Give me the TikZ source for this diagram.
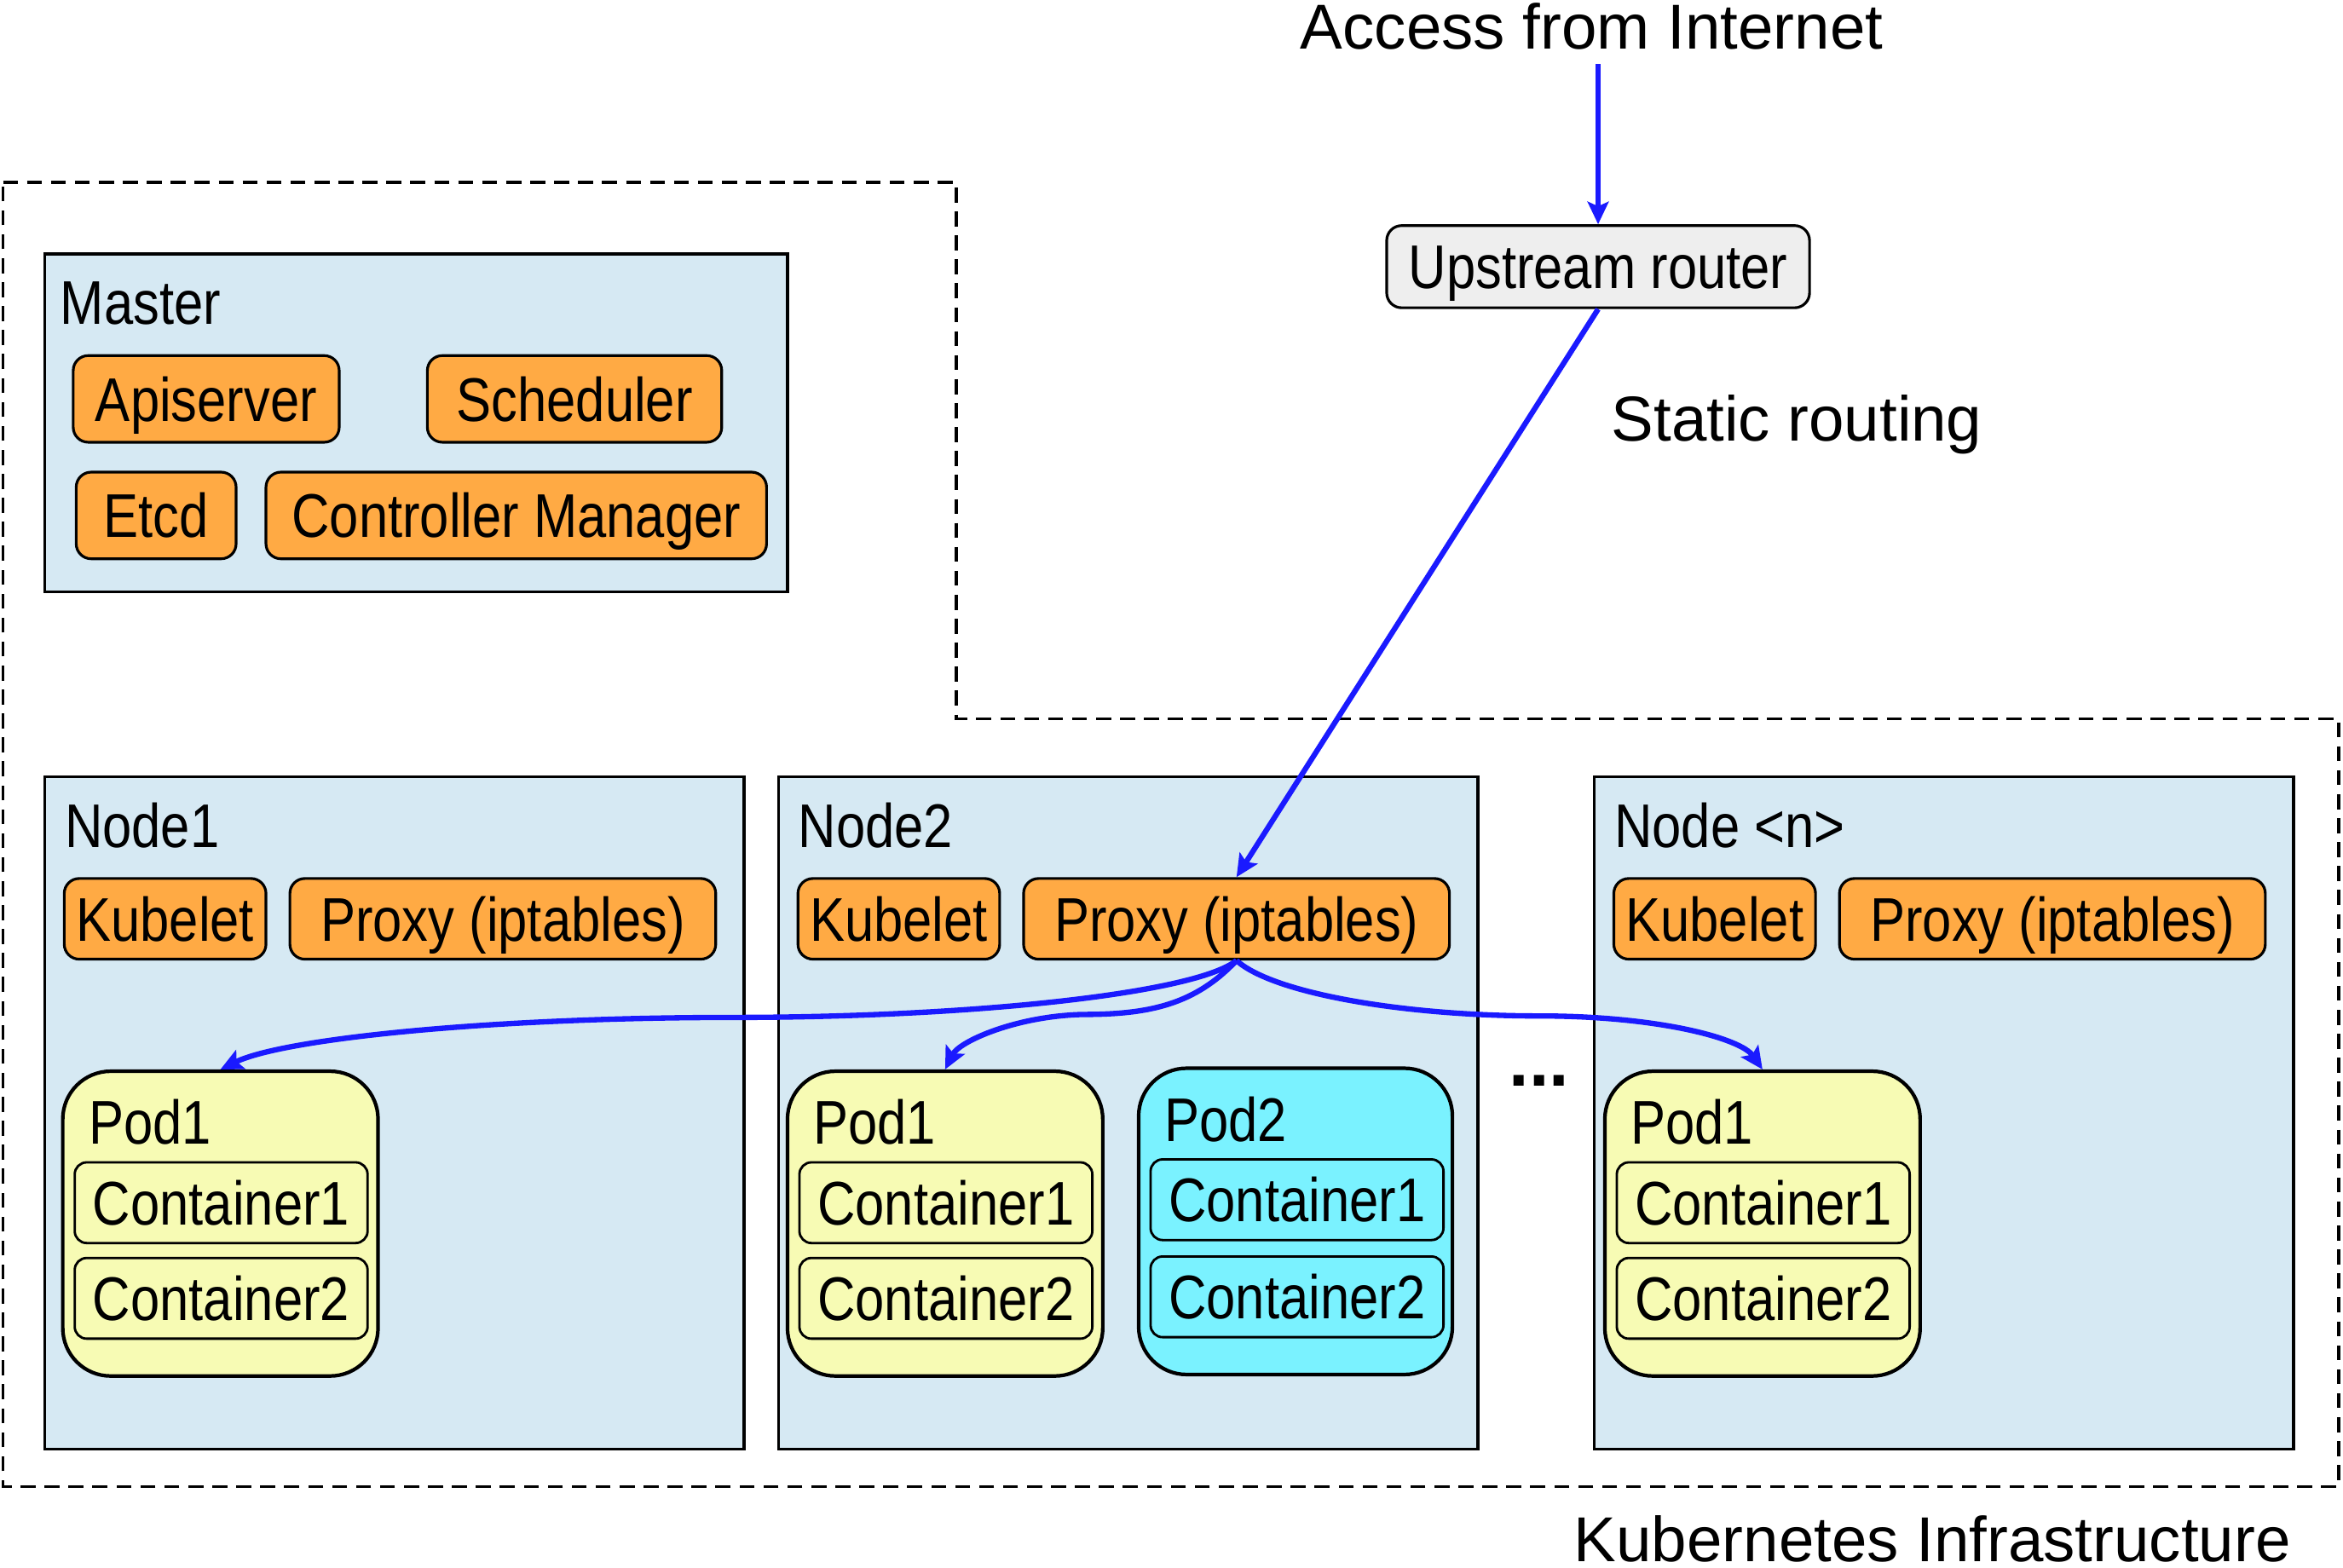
\documentclass[tikz,border=0pt]{standalone}
\usepackage{fontspec}
\setmainfont{Liberation Sans}
\newfontfamily\narrowfont{Liberation Sans}[FakeStretch=0.85]
\usetikzlibrary{fit,arrows.meta}

\definecolor{nodeblue}{RGB}{214,233,243}
\definecolor{comporange}{RGB}{255,170,68}
\definecolor{podyellow}{RGB}{247,251,180}
\definecolor{podcyan}{RGB}{122,242,255}
\definecolor{routergray}{RGB}{238,238,238}
\definecolor{linkblue}{RGB}{26,26,255}

\begin{document}
\begin{tikzpicture}[x=0.017532cm, y=-0.017532cm,
    box/.style={draw, line width=1pt, inner sep=0pt, fill=nodeblue},
    comptext/.style={inner sep=0pt, font=\narrowfont\fontsize{20.6}{24}\selectfont,
        text height=14.8pt, text depth=0pt},
    comp/.style={draw, line width=0.9pt, rounded corners=5pt, fill=comporange, inner sep=0pt,
        label={[comptext]center:#1}},
    pod/.style={draw, line width=1.2pt, rounded corners=16pt, inner sep=0pt},
    ctr/.style={comp=#1, fill=none, line width=0.8pt, rounded corners=4pt},
    title/.style={anchor=base west, inner sep=0pt, font=\narrowfont\fontsize{20.6}{24}\selectfont},
    big/.style={anchor=base west, inner sep=0pt, font=\fontsize{21.2}{25}\selectfont},
    route/.style={draw=linkblue, line width=1.8pt, -{Stealth[length=7.5pt,width=7pt,inset=1.5pt]}}]
    \useasboundingbox (0,0) rectangle (1568,1049);

    % Labels outside
    \node[big] (inet) at (870,33) {Access from Internet};
    \node[big] (static) at (1078,295) {Static routing};
    \node[big] (k8s) at (1053,1045) {Kubernetes Infrastructure};
    \node[comp=Upstream router, fill=routergray, fit={(928,151) (1211,206)}] (router) {};

    % Infrastructure outline
    \draw[line width=1pt, dash pattern=on 5pt off 3pt] (2,122) -- (640,122) -- (640,481)
        -- (1565,481) -- (1565,995) -- (2,995) -- cycle;

    % Master
    \node[box, fit={(30,170) (527,396)}] (master) {};
    \node[title] (mastertitle) at (40,217) {Master};
    \node[comp=Apiserver, fit={(49,238) (227,296)}] (apiserver) {};
    \node[comp=Scheduler, fit={(286,238) (483,296)}] (scheduler) {};
    \node[comp=Etcd, fit={(51,316) (158,374)}] (etcd) {};
    \node[comp=Controller Manager, fit={(178,316) (513,374)}] (ctrlmgr) {};

    % Worker nodes
    \foreach \i/\dx/\pdx/\ntitle in {1/0/0/Node1, 2/491/485/Node2, n/1037/1032/{Node <n>}} {
        \node[box, fit={(30+\dx,520) (498+\dx,970)}] (node\i) {};
        \node[title] (nodetitle\i) at (43+\dx,567) {\ntitle};
        \node[comp=Kubelet, fit={(43+\dx,588) (178+\dx,642)}] (kubelet\i) {};
        \node[comp={Proxy (iptables)}, fit={(194+\dx,588) (479+\dx,642)}] (proxy\i) {};
        \node[pod, fill=podyellow, fit={(42+\pdx,717) (253+\pdx,921)}] (pod\i) {};
        \node[title] (podtitle\i) at (59+\pdx,766) {Pod1};
        \node[ctr=Container1, fit={(50+\pdx,778) (246+\pdx,832)}] (ctra\i) {};
        \node[ctr=Container2, fit={(50+\pdx,842) (246+\pdx,896)}] (ctrb\i) {};
    }

    % Second pod on Node2
    \node[pod, fill=podcyan, fit={(762,715) (972,920)}] (pod2x) {};
    \node[title] (podtitle2x) at (779,764) {Pod2};
    \node[ctr=Container1, fit={(770,776) (966,830)}] (ctra2x) {};
    \node[ctr=Container2, fit={(770,841) (966,895)}] (ctrb2x) {};

    \node[inner sep=0pt, anchor=base, font=\bfseries\fontsize{24}{24}\selectfont] (dots) at (1030,727) {...};

    % Routing
    \draw[route] ([yshift=-4.5pt]router.north |- inet.south) -- (router.north);
    \draw[route] (router.south) -- (proxy2.north);
    \draw[route] (proxy2.south) .. controls (800,665) and (650,681) .. (490,681)
        .. controls (330,681) and (190,695) .. (pod1.north);
    \draw[route] (proxy2.south) .. controls (800,672) and (770,679) .. (725,679)
        .. controls (680,680) and (642,697) .. (pod2.north);
    \draw[route] (proxy2.south) .. controls (852,665) and (940,680) .. (1030,680)
        .. controls (1110,680) and (1165,695) .. (podn.north);
\end{tikzpicture}
\end{document}
